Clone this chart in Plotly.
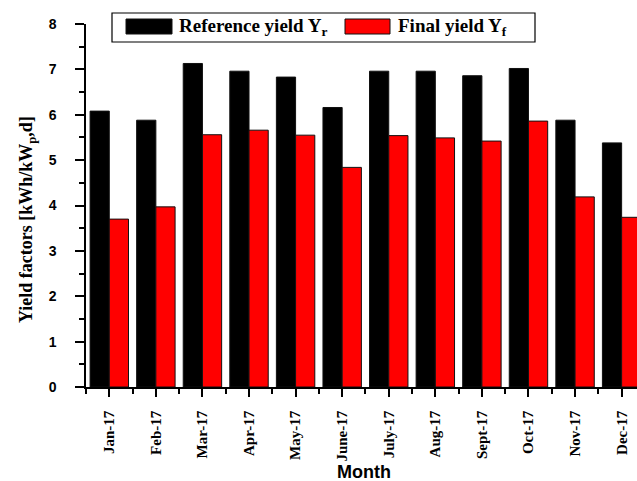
import plotly.graph_objects as go

months = ["Jan-17", "Feb-17", "Mar-17", "Apr-17", "May-17", "June-17",
          "July-17", "Aug-17", "Sept-17", "Oct-17", "Nov-17", "Dec-17"]
reference_yield = [6.08, 5.88, 7.13, 6.96, 6.83, 6.16, 6.96, 6.96, 6.86, 7.02, 5.88, 5.38]
final_yield = [3.70, 3.97, 5.56, 5.66, 5.55, 4.84, 5.54, 5.49, 5.42, 5.86, 4.19, 3.74]

W, H = 637, 481
L, R, T, B = 86, 0, 24, 94
PW, PH = W - L - R, H - T - B

def px(x):
    return (x - L) / PW

def py(y):
    return (H - B - y) / PH

xpos = list(range(len(months)))
SERIF = "Liberation Serif, Times New Roman, serif"
SANS = "Liberation Sans, Arial, sans-serif"

fig = go.Figure()
fig.add_trace(go.Bar(x=xpos, y=reference_yield, name="Reference yield Y<sub>r</sub>",
                     marker=dict(color="black", line=dict(color="#111111", width=1)),
                     showlegend=False))
fig.add_trace(go.Bar(x=xpos, y=final_yield, name="Final yield Y<sub>f</sub>",
                     marker=dict(color="#ff0000", line=dict(color="#111111", width=1)),
                     showlegend=False))

fig.update_layout(
    width=W, height=H,
    margin=dict(l=L, r=R, t=T, b=B, pad=0),
    paper_bgcolor="white", plot_bgcolor="white",
    barmode="group", bargap=0.175, bargroupgap=0,
    xaxis=dict(
        range=[-0.5, 11.33], tickmode="array", tickvals=xpos, ticktext=months,
        tickangle=-90, ticks="outside", ticklen=8, tickwidth=1.5, tickcolor="black",
        showline=True, linecolor="black", linewidth=1.5, showgrid=False, zeroline=False,
        tickfont=dict(family=SERIF, size=15, color="black", weight="bold"),
        ticklabelstandoff=8,
        minor=dict(tickmode="linear", tick0=-0.5, dtick=1, ticks="outside",
                   ticklen=5, tickwidth=1.5, tickcolor="black", showgrid=False),
    ),
    yaxis=dict(
        range=[0, 8], dtick=1, ticks="outside", ticklen=9, tickwidth=1.5, tickcolor="black",
        showline=True, linecolor="black", linewidth=1.5, showgrid=False, zeroline=False,
        tickfont=dict(family=SANS, size=14, color="black", weight="bold"),
        ticklabelstandoff=16,
        minor=dict(dtick=0.5, ticks="outside", ticklen=5, tickwidth=1.5,
                   tickcolor="black", showgrid=False),
    ),
)

shapes = [
    dict(type="rect", xref="paper", yref="paper", x0=px(112), x1=px(535), y0=py(42), y1=py(13),
         line=dict(color="black", width=1.2), fillcolor="white"),
    dict(type="rect", xref="paper", yref="paper", x0=px(126), x1=px(172), y0=py(34), y1=py(19),
         line=dict(color="#111111", width=1), fillcolor="black"),
    dict(type="rect", xref="paper", yref="paper", x0=px(345), x1=px(390), y0=py(34), y1=py(19),
         line=dict(color="#111111", width=1), fillcolor="#ff0000"),
]
fig.update_layout(shapes=shapes)

annos = [
    dict(text="Reference yield Y<sub>r</sub>", x=px(177), y=py(27), xanchor="left", yanchor="middle"),
    dict(text="Final yield Y<sub>f</sub>", x=px(396), y=py(27), xanchor="left", yanchor="middle"),
]
for a in annos:
    fig.add_annotation(xref="paper", yref="paper", showarrow=False,
                       font=dict(family=SERIF, size=19, color="black", weight="bold"), **a)

fig.add_annotation(text="Yield factors [kWh/kW<sub>p</sub>,d]", xref="paper", yref="paper",
                   x=px(27), y=py(220), xanchor="center", yanchor="middle", textangle=-90,
                   showarrow=False, font=dict(family=SERIF, size=18, color="black", weight="bold"))
fig.add_annotation(text="Month", xref="paper", yref="paper",
                   x=px(364), y=py(472), xanchor="center", yanchor="middle",
                   showarrow=False, font=dict(family=SANS, size=18, color="black", weight="bold"))

fig.write_html("out.html")
